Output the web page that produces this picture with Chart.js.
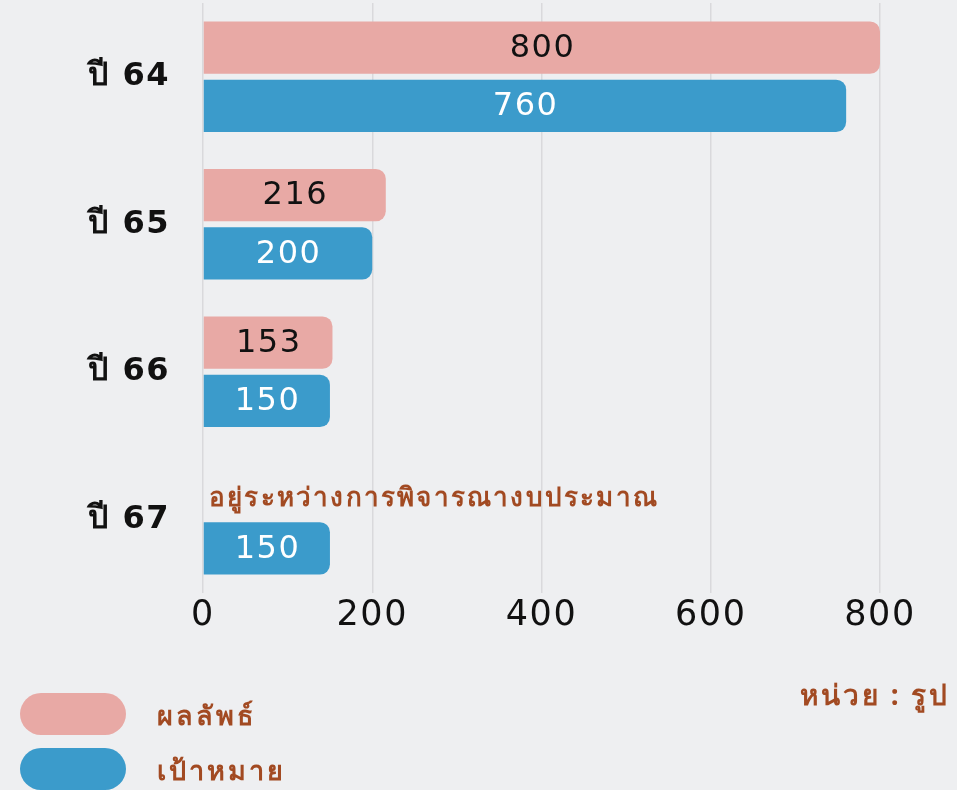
<!DOCTYPE html>
<html><head><meta charset="utf-8">
<script src="https://cdn.jsdelivr.net/npm/chart.js@4"></script>
<style>
html,body{margin:0;padding:0;background:#eeeff1;}
#wrap{width:957px;height:790px;position:relative;}
</style></head>
<body><div id="wrap"><canvas id="c" width="957" height="790"></canvas></div>
<script>
const categories = ['ปี 64', 'ปี 65', 'ปี 66', 'ปี 67'];
const seriesNames = ['ผลลัพธ์', 'เป้าหมาย'];
const resultValues = [800, 216, 153, null];
const targetValues = [760, 200, 150, 150];
const notes = [null, null, null, 'อยู่ระหว่างการพิจารณางบประมาณ'];
const xTicks = [0, 200, 400, 600, 800];
const unitText = 'หน่วย : รูป';

const PINK = '#e8a9a5', BLUE = '#3b9bcb', BROWN = '#a24a22';
const FONT = "'DejaVu Sans', 'Noto Sans', sans-serif";
const TFONT = "'Noto Sans', sans-serif";

const spacingPlugin = {
  id: 'spacing',
  beforeLayout(chart) { chart.ctx.letterSpacing = '1.5px'; },
  beforeDraw(chart) { chart.ctx.letterSpacing = '1.5px'; }
};

function thaiText(ctx, txt, x, y, size, spacing, align) {
  ctx.letterSpacing = spacing + 'px';
  ctx.fillStyle = BROWN;
  ctx.font = "bold " + size + "px " + TFONT;
  ctx.textAlign = align;
  ctx.textBaseline = 'middle';
  ctx.fillText(txt, x, y);
}

const labelPlugin = {
  id: 'labels',
  afterDatasetsDraw(chart) {
    const ctx = chart.ctx;
    ctx.save();
    chart.data.datasets.forEach((ds, di) => {
      const meta = chart.getDatasetMeta(di);
      meta.data.forEach((el, i) => {
        const v = ds.data[i];
        if (v == null) {
          if (di === 0 && notes[i]) {
            thaiText(ctx, notes[i], chart.scales.x.getPixelForValue(0) + 6, el.y + 8, 26, 2.2, 'left');
          }
          return;
        }
        const x0 = chart.scales.x.getPixelForValue(0);
        ctx.letterSpacing = '1.5px';
        ctx.fillStyle = di === 0 ? '#111' : '#fff';
        ctx.font = "32px " + FONT;
        ctx.textAlign = 'center';
        ctx.textBaseline = 'middle';
        ctx.fillText(String(v), (x0 + el.x) / 2 + 1, el.y + 1);
      });
    });
    // legend
    const items = [[PINK, seriesNames[0], 714], [BLUE, seriesNames[1], 769]];
    items.forEach(([col, txt, cy]) => {
      ctx.fillStyle = col;
      ctx.beginPath();
      ctx.roundRect(20, cy - 21, 106, 42, 21);
      ctx.fill();
      thaiText(ctx, txt, 157, cy + 3, 27, 3, 'left');
    });
    thaiText(ctx, unitText, 950, 697, 28, 2.8, 'right');
    ctx.restore();
  }
};

new Chart(document.getElementById('c'), {
  type: 'bar',
  data: {
    labels: categories,
    datasets: [
      { label: seriesNames[0], data: resultValues, backgroundColor: PINK, borderRadius: 10, borderSkipped: 'start' },
      { label: seriesNames[1], data: targetValues, backgroundColor: BLUE, borderRadius: 10, borderSkipped: 'start' }
    ]
  },
  options: {
    indexAxis: 'y',
    responsive: false,
    animation: false,
    layout: { padding: { left: 0, right: 77, top: 3, bottom: 137 } },
    categoryPercentage: 0.79,
    barPercentage: 0.9,
    plugins: { legend: { display: false }, tooltip: { enabled: false } },
    scales: {
      x: {
        min: 0, max: 800,
        afterBuildTicks: s => { s.ticks = xTicks.map(v => ({ value: v })); },
        afterFit: s => { s.height = 60; },
        grid: { color: '#d9d9dc', lineWidth: 1.5, drawTicks: false },
        border: { display: false },
        ticks: { color: '#111', font: { family: FONT, size: 35 }, padding: 2 }
      },
      y: {
        afterFit: s => { s.width = 203; s.paddingTop = 0; s.paddingBottom = 0; },
        grid: { display: false, drawTicks: true, tickLength: 33 },
        border: { display: false },
        ticks: { color: '#111', font: { family: FONT, size: 32, weight: '600' }, padding: 0 }
      }
    }
  },
  plugins: [spacingPlugin, labelPlugin]
});
</script></body></html>
